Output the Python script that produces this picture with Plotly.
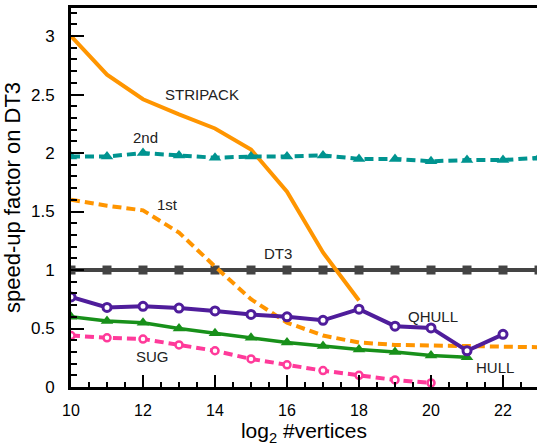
import plotly.graph_objects as go

# log2 of the number of vertices
stripack_x = list(range(10, 19))
stripack_y = [3.0, 2.67, 2.46, 2.33, 2.21, 2.03, 1.67, 1.15, 0.74]

second_x = list(range(10, 24))
second_y = [1.97, 1.97, 2.0, 1.98, 1.96, 1.97, 1.97, 1.98, 1.95, 1.95, 1.93, 1.94, 1.94, 1.96]

first_x = list(range(10, 24))
first_y = [1.60, 1.55, 1.51, 1.32, 1.03, 0.75, 0.55, 0.44, 0.38, 0.36, 0.355, 0.35, 0.35, 0.34]

dt3_x = list(range(10, 24))
dt3_y = [1.0] * 14

qhull_x = list(range(10, 23))
qhull_y = [0.77, 0.68, 0.69, 0.675, 0.65, 0.62, 0.60, 0.57, 0.665, 0.52, 0.505, 0.31, 0.45]

hull_x = list(range(10, 22))
hull_y = [0.60, 0.565, 0.55, 0.50, 0.46, 0.42, 0.38, 0.35, 0.32, 0.30, 0.27, 0.255]

sug_x = list(range(10, 21))
sug_y = [0.44, 0.42, 0.41, 0.36, 0.31, 0.24, 0.19, 0.14, 0.10, 0.06, 0.035]

labels = ["STRIPACK", "2nd", "1st", "DT3", "QHULL", "SUG", "HULL"]
label_x = [13.64, 12.08, 12.67, 15.75, 20.06, 12.25, 21.78]
label_y = [2.50, 2.13, 1.556, 1.145, 0.60, 0.265, 0.171]

ORANGE = "#FF9500"
TEAL = "#009490"
GRAY = "#444444"
PURPLE = "#4F1D9B"
GREEN = "#18901A"
PINK = "#FF3A9A"
DASH = "9px,5px"

fig = go.Figure()

fig.add_trace(go.Scatter(x=dt3_x, y=dt3_y, mode="lines+markers",
                         line=dict(color=GRAY, width=4),
                         marker=dict(symbol="square", size=9, color=GRAY)))
fig.add_trace(go.Scatter(x=first_x, y=first_y, mode="lines",
                         line=dict(color=ORANGE, width=4, dash=DASH)))
fig.add_trace(go.Scatter(x=stripack_x, y=stripack_y, mode="lines",
                         line=dict(color=ORANGE, width=4)))
fig.add_trace(go.Scatter(x=second_x, y=second_y, mode="lines+markers",
                         line=dict(color=TEAL, width=4, dash=DASH),
                         marker=dict(symbol="triangle-up", size=11, color=TEAL)))
fig.add_trace(go.Scatter(x=hull_x, y=hull_y, mode="lines+markers",
                         line=dict(color=GREEN, width=3.5),
                         marker=dict(symbol="triangle-up", size=11, color=GREEN)))
fig.add_trace(go.Scatter(x=sug_x, y=sug_y, mode="lines+markers",
                         line=dict(color=PINK, width=4, dash=DASH),
                         marker=dict(symbol="circle", size=7, color="white",
                                     line=dict(color=PINK, width=2.5))))
fig.add_trace(go.Scatter(x=qhull_x, y=qhull_y, mode="lines+markers",
                         line=dict(color=PURPLE, width=4),
                         marker=dict(symbol="circle", size=8, color="white",
                                     line=dict(color=PURPLE, width=3))))

for t, lx, ly in zip(labels, label_x, label_y):
    fig.add_annotation(x=lx, y=ly, text=t, showarrow=False,
                       xanchor="center", yanchor="middle",
                       font=dict(size=15, color="#222222"))

font_family = "Liberation Sans, Arial, Helvetica, sans-serif"

fig.update_layout(
    width=537, height=447,
    margin=dict(l=71, r=0, t=8, b=60),
    paper_bgcolor="white", plot_bgcolor="white",
    showlegend=False,
    font=dict(family=font_family, color="black"),
    xaxis=dict(
        range=[10, 22.944], tickmode="linear", tick0=10, dtick=2,
        ticks="inside", ticklen=12, tickwidth=2, tickcolor="black",
        minor=dict(dtick=0.5, ticks="inside", ticklen=5, tickwidth=1.5, tickcolor="black"),
        showline=True, linecolor="black", linewidth=3, mirror=True,
        showgrid=False, zeroline=False,
        tickfont=dict(size=16), ticklabelstandoff=7,
        title=dict(text="log<sub>2</sub> #vertices", font=dict(size=21), standoff=6),
    ),
    yaxis=dict(
        range=[0, 3.24], tickmode="linear", tick0=0, dtick=0.5,
        ticks="inside", ticklen=13, tickwidth=2, tickcolor="black",
        minor=dict(dtick=0.1, ticks="inside", ticklen=6, tickwidth=1.5, tickcolor="black"),
        showline=True, linecolor="black", linewidth=3, mirror=False,
        showgrid=False, zeroline=False,
        tickfont=dict(size=17), ticklabelstandoff=10,
        title=dict(text="speed-up factor on DT3", font=dict(size=22), standoff=6),
    ),
)

fig.write_html("out.html")
